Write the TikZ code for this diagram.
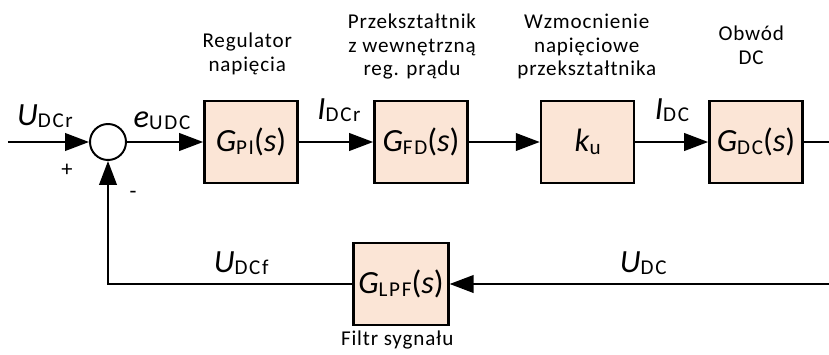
\documentclass[tikz,border=0pt]{standalone}
\usepackage{fontspec}
\setmainfont{Carlito}
\usepackage{tikz}
\usetikzlibrary{arrows.meta,positioning}

\definecolor{blockfill}{RGB}{251,229,214}
\newcommand{\sig}[2]{\textit{#1}\raisebox{-0.08em}{\fontsize{15}{16}\selectfont\addfontfeature{LetterSpace=8}#2}}

\begin{document}
\begin{tikzpicture}[
    block/.style={rectangle, draw=black, line width=1.8pt, fill=blockfill, minimum width=2.33cm, minimum height=2.05cm, font=\fontsize{23}{25}\selectfont},
    sumnode/.style={circle, draw=black, line width=1.4pt, minimum size=0.9cm, inner sep=0pt},
    arrow/.style={-{Triangle[length=17pt,width=12.5pt]}, line width=1.4pt},
    line/.style={line width=1.4pt},
    signal/.style={font=\fontsize{23}{25}\selectfont, inner sep=0pt, anchor=base},
    note/.style={font=\fontsize{15}{16.7}\selectfont\addfontfeature{LetterSpace=4}, align=center, inner sep=0pt, anchor=north}
]
\useasboundingbox (0,0) rectangle (20.725,8.85);

% Blocks
\node[sumnode] (sum) at (2.7,5.3) {};
\node[block] (pi) at (6.275,5.3) {\sig{G}{PI}(\textit{s})};
\node[block] (fd) at (10.525,5.3) {\sig{G}{FD}(\textit{s})};
\node[block] (ku) at (14.69,5.3) {\sig{k}{u}};
\node[block] (dc) at (18.9,5.3) {\sig{G}{DC}(\textit{s})};
\node[block] (lpf) at (10.025,1.75) {\sig{G}{LPF}(\textit{s})};

% Open ends
\coordinate (in) at (0.2,5.3);
\coordinate (out) at (20.725,5.3);
\coordinate (fb) at (20.725,1.75);

% Forward path
\draw[arrow] (in) -- (sum);
\draw[arrow] (sum) -- (pi);
\draw[arrow] (pi) -- (fd);
\draw[arrow] (fd) -- (ku);
\draw[arrow] (ku) -- (dc);
\draw[line] (dc) -- (out);

% Feedback path
\draw[arrow] (fb) -- (lpf);
\draw[arrow] (lpf.west) -| (sum.south);

% Signals
\node[signal] (udcr) at (1.125,5.725) {\sig{U}{DCr}};
\node[signal] (eudc) at (4.05,5.675) {\sig{e}{UDC}};
\node[signal] (idcr) at (8.475,5.875) {\sig{I}{DCr}};
\node[signal] (idc) at (16.8,5.875) {\sig{I}{DC}};
\node[signal] (udcf) at (6.03,2.05) {\sig{U}{DCf}};
\node[signal] (udc) at (16.08,2.05) {\sig{U}{DC}};
\node[font=\fontsize{16}{18}\selectfont] (plus) at (1.675,4.6) {+};
\node[font=\fontsize{16}{18}\selectfont] (minus) at (3.325,3.975) {-};

% Descriptions
\node[note] (lblpi) at (6.18,8.03) {Regulator\\napięcia};
\node[note] (lblfd) at (10.3,8.5) {Przekształtnik\\z wewnętrzną\\reg. prądu};
\node[note] (lblku) at (14.67,8.5) {Wzmocnienie\\napięciowe\\przekształtnika};
\node[note] (lbldc) at (18.78,8.2) {Obwód\\DC};
\node[note] (lbllpf) at (9.93,0.575) {Filtr sygnału};

\end{tikzpicture}
\end{document}
